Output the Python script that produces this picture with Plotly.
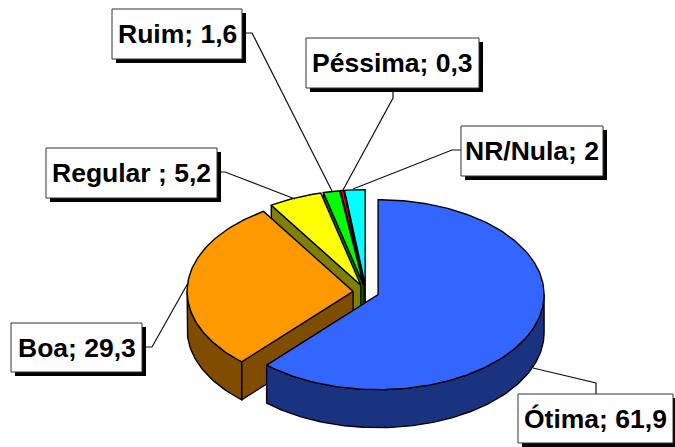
import numpy as np
import plotly.graph_objects as go

# Data, in clockwise order from 12 o'clock
categories = ["Ótima", "Boa", "Regular ", "Ruim", "Péssima", "NR/Nula"]
values = [61.9, 29.3, 5.2, 1.6, 0.3, 2]
value_labels = ["61,9", "29,3", "5,2", "1,6", "0,3", "2"]

# Styles
top_colors = ["#3366FF", "#FF9900", "#FFFF00", "#00FF00", "#FF0000", "#00FFFF"]
side_colors = ["#1A3380", "#804D00", "#808000", "#008000", "#800000", "#008080"]

# Pie geometry in the page's pixel frame (axes map 1:1 to pixels)
CX, CY, RX, RY, DEPTH, EXPLODE = 366, 292, 166, 95, 38, 0.078
W, H = 675, 447

# Label boxes: left, top, right, bottom
boxes = [(518, 394, 673, 443), (11, 323, 142, 372), (46, 148, 217, 198),
         (112, 9, 242, 59), (306, 38, 479, 88), (461, 126, 603, 176)]
# Leader lines from box to slice
leaders = [
    [(596, 394), (596, 383), (533, 368)],
    [(146, 347), (152, 347), (188, 283)],
    [(217, 172), (225, 172), (295, 199)],
    [(246, 33), (252, 33), (332, 191)],
    [(393, 88), (393, 98), (343, 190)],
    [(461, 150), (452, 150), (353, 189)],
]
SHADOW = 4

fig = go.Figure()

total = sum(values)
edges = np.concatenate([[0], np.cumsum(values)]) / total * 2 * np.pi


def arc(cx, cy, a, b, dy=0.0):
    t = np.linspace(a, b, max(2, int((b - a) * 60) + 2))
    return cx + RX * np.sin(t), cy - RY * np.cos(t) + dy


def poly(x, y, color):
    fig.add_trace(go.Scatter(
        x=list(x) + [x[0]], y=list(y) + [y[0]], mode="lines", fill="toself",
        fillcolor=color, line=dict(color="black", width=1.4),
        hoverinfo="skip", showlegend=False))


# Back-to-front: smallest rear slices first, the big blue slice last
for i in reversed(range(len(values))):
    a, b = edges[i], edges[i + 1]
    mid = (a + b) / 2
    cx = CX + EXPLODE * RX * np.sin(mid)
    cy = CY - EXPLODE * RY * np.cos(mid)
    # Cut face on the starting edge when it faces the viewer
    if np.pi < a < 2 * np.pi:
        ex, ey = arc(cx, cy, a, a)
        poly([cx, ex[0], ex[0], cx], [cy, ey[0], ey[0] + DEPTH, cy + DEPTH], side_colors[i])
    # Outer rim on the front half
    lo, hi = max(a, np.pi / 2), min(b, 3 * np.pi / 2)
    if hi > lo:
        tx, ty = arc(cx, cy, lo, hi)
        poly(np.concatenate([tx, tx[::-1]]),
             np.concatenate([ty, ty[::-1] + DEPTH]), side_colors[i])
    # Top face
    tx, ty = arc(cx, cy, a, b)
    poly(np.concatenate([[cx], tx]), np.concatenate([[cy], ty]), top_colors[i])

shapes = []
annotations = []
for name, val, (l, t, r, b), pts in zip(categories, value_labels, boxes, leaders):
    path = "M " + " L ".join(f"{x} {y}" for x, y in pts)
    shapes.append(dict(type="path", path=path, xref="x", yref="y", layer="above",
                       line=dict(color="#111111", width=1.2)))
    shapes.append(dict(type="rect", x0=l + SHADOW, y0=t + SHADOW, x1=r + SHADOW, y1=b + SHADOW,
                       xref="x", yref="y", layer="above",
                       fillcolor="black", line=dict(color="black", width=0)))
    shapes.append(dict(type="rect", x0=l, y0=t, x1=r, y1=b, xref="x", yref="y", layer="above",
                       fillcolor="white", line=dict(color="#333333", width=1)))
    annotations.append(dict(x=(l + r) / 2, y=(t + b) / 2, xref="x", yref="y",
                            text=f"{name}; {val}", showarrow=False,
                            xanchor="center", yanchor="middle",
                            font=dict(family="Liberation Sans", size=26.5, color="black", weight=700)))

fig.update_layout(
    width=W, height=H, margin=dict(l=0, r=0, t=0, b=0),
    paper_bgcolor="white", plot_bgcolor="white", showlegend=False,
    xaxis=dict(range=[0, W], visible=False, fixedrange=True),
    yaxis=dict(range=[H, 0], visible=False, fixedrange=True),
    shapes=shapes, annotations=annotations,
)

fig.write_html("out.html", config={"displayModeBar": False},
               post_script="document.body.style.margin='0';document.body.style.overflow='hidden';")
